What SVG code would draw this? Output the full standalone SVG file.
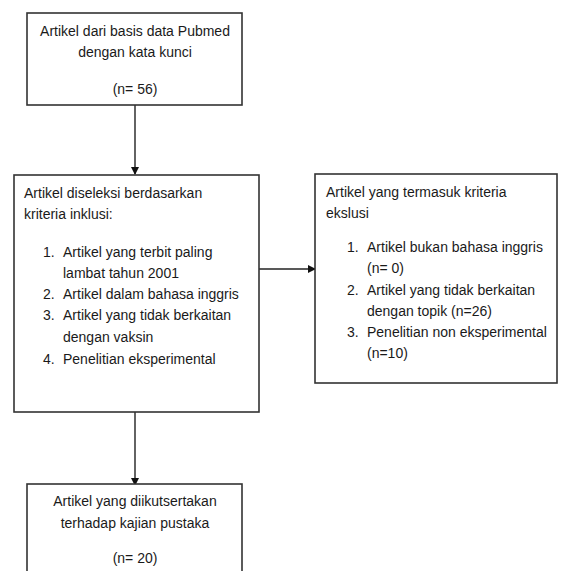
<svg xmlns="http://www.w3.org/2000/svg" width="562" height="571" viewBox="0 0 562 571">
<style>
.box{fill:#fff;stroke:#333;stroke-width:1.6}
.t{font-family:"Liberation Sans",Arial,sans-serif;font-size:14px;fill:#1a1a1a}
.c{text-anchor:middle}
.edge{stroke:#222;stroke-width:1.4;fill:none}
</style>
<defs>
<marker id="ah" markerWidth="8" markerHeight="8" refX="7" refY="4" orient="auto" markerUnits="userSpaceOnUse">
<path d="M0,0 L8,4 L0,8 Z" fill="#111"/>
</marker>
</defs>
<rect width="562" height="571" fill="#fff"/>
<g id="connectors">
<line class="edge" x1="135" y1="105" x2="135" y2="174" marker-end="url(#ah)"/>
<line class="edge" x1="259" y1="269" x2="315" y2="269" marker-end="url(#ah)"/>
<line class="edge" x1="135" y1="412" x2="135" y2="485" marker-end="url(#ah)"/>
</g>
<g id="n1">
<rect class="box" x="27" y="13" width="215" height="92"/>
<text class="t c" x="135" y="36">Artikel dari basis data Pubmed</text>
<text class="t c" x="135" y="57">dengan kata kunci</text>
<text class="t c" x="135" y="94">(n= 56)</text>
</g>
<g id="n2">
<rect class="box" x="14" y="175" width="245" height="237"/>
<text class="t" x="24" y="198">Artikel diseleksi berdasarkan</text>
<text class="t" x="24" y="219">kriteria inklusi:</text>
<text class="t" x="43" y="257">1.</text>
<text class="t" x="63" y="257">Artikel yang terbit paling</text>
<text class="t" x="63" y="278">lambat tahun 2001</text>
<text class="t" x="43" y="299">2.</text>
<text class="t" x="63" y="299">Artikel dalam bahasa inggris</text>
<text class="t" x="43" y="320">3.</text>
<text class="t" x="63" y="320">Artikel yang tidak berkaitan</text>
<text class="t" x="63" y="342">dengan vaksin</text>
<text class="t" x="43" y="364">4.</text>
<text class="t" x="63" y="364">Penelitian eksperimental</text>
</g>
<g id="n3">
<rect class="box" x="315" y="174" width="242" height="209"/>
<text class="t" x="326" y="197">Artikel yang termasuk kriteria</text>
<text class="t" x="326" y="218">ekslusi</text>
<text class="t" x="347" y="252">1.</text>
<text class="t" x="367" y="252">Artikel bukan bahasa inggris</text>
<text class="t" x="367" y="273">(n= 0)</text>
<text class="t" x="347" y="295">2.</text>
<text class="t" x="367" y="295">Artikel yang tidak berkaitan</text>
<text class="t" x="367" y="316">dengan topik (n=26)</text>
<text class="t" x="347" y="337">3.</text>
<text class="t" x="367" y="337">Penelitian non eksperimental</text>
<text class="t" x="367" y="358">(n=10)</text>
</g>
<g id="n4">
<rect class="box" x="27" y="484" width="215" height="100"/>
<text class="t c" x="135" y="506">Artikel yang diikutsertakan</text>
<text class="t c" x="135" y="528">terhadap kajian pustaka</text>
<text class="t c" x="135" y="563">(n= 20)</text>
</g>
</svg>
